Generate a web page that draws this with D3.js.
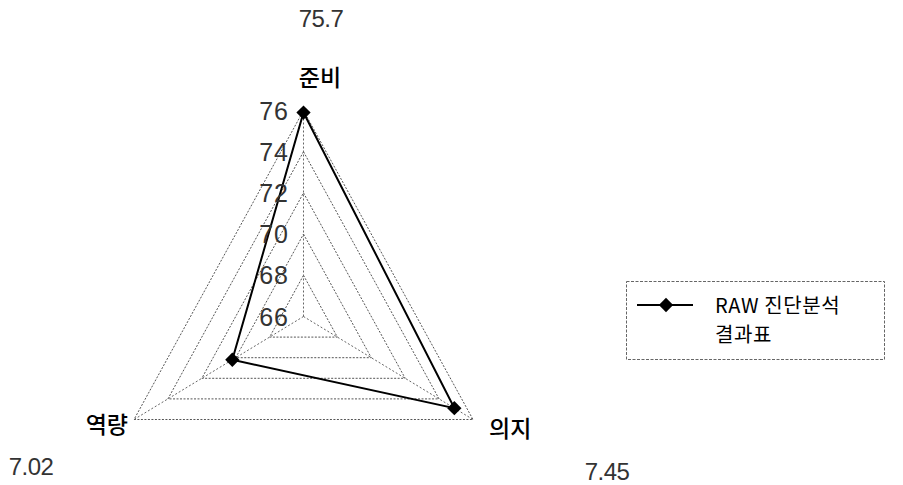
<!DOCTYPE html>
<html>
<head>
<meta charset="utf-8">
<script src="https://cdn.jsdelivr.net/npm/d3@7"></script>
<style>
  body { margin: 0; background: #fff; }
  svg { display: block; }
</style>
</head>
<body>
<div id="chart"></div>
<script>
const categories = ['준비', '의지', '역량'];
const values = [75.9, 74.9, 70.2];
const ringTicks = [66, 68, 70, 72, 74, 76];
const noteLabels = ['75.7', '7.45', '7.02'];
const seriesName = ['RAW 진단분석', '결과표'];

const width = 903;
const height = 485;
const cx = 303.5;
const cy = 316.5;
const radius = 206;
const sx = 0.95;

const svg = d3.select('#chart')
  .append('svg')
  .attr('width', width)
  .attr('height', height);

const rScale = d3.scaleLinear()
  .domain([66, 76])
  .range([0, radius]);

const angle = d3.scaleOrdinal()
  .domain(categories)
  .range(categories.map((d, i) => i * 2 * Math.PI / categories.length));

const pt = (cat, v) => {
  const a = angle(cat);
  return [cx + rScale(v) * Math.sin(a) * sx, cy - rScale(v) * Math.cos(a)];
};

const closed = d3.line().curve(d3.curveLinearClosed);

// grid rings
svg.append('g')
  .selectAll('path')
  .data(ringTicks.slice(1))
  .join('path')
  .attr('d', t => closed(categories.map(c => pt(c, t))))
  .style('fill', 'none')
  .style('stroke', '#555')
  .style('stroke-width', 1)
  .style('stroke-dasharray', '2,1.5');

// spokes
svg.append('g')
  .selectAll('line')
  .data(categories)
  .join('line')
  .attr('x1', cx)
  .attr('y1', cy)
  .attr('x2', c => pt(c, 76)[0])
  .attr('y2', c => pt(c, 76)[1])
  .style('stroke', '#666')
  .style('stroke-width', 1)
  .style('stroke-dasharray', '2,2');

// series line
svg.append('path')
  .attr('d', closed(categories.map((c, i) => pt(c, values[i]))))
  .style('fill', 'none')
  .style('stroke', '#000')
  .style('stroke-width', 2);

const diamond = d3.symbol().type(d3.symbolDiamond2).size(130);

svg.append('g')
  .selectAll('path')
  .data(categories)
  .join('path')
  .attr('transform', (c, i) => `translate(${pt(c, values[i])})`)
  .attr('d', diamond)
  .style('fill', '#000');

// ring tick labels
svg.append('g')
  .selectAll('text')
  .data(ringTicks)
  .join('text')
  .attr('x', 289)
  .attr('y', t => cy - rScale(t))
  .attr('dy', '0.36em')
  .attr('text-anchor', 'end')
  .style('font-family', 'Liberation Sans, Arial, sans-serif')
  .style('font-size', '25px')
  .style('letter-spacing', '1px')
  .style('fill', '#333')
  .text(t => t);

// category labels
const catPos = [
  { x: 320, y: 86, anchor: 'middle' },
  { x: 489, y: 437, anchor: 'start' },
  { x: 128, y: 433, anchor: 'end' }
];
svg.append('g')
  .selectAll('text')
  .data(categories)
  .join('text')
  .attr('x', (c, i) => catPos[i].x)
  .attr('y', (c, i) => catPos[i].y)
  .attr('text-anchor', (c, i) => catPos[i].anchor)
  .style('font-family', '"Noto Sans CJK KR", sans-serif')
  .style('font-size', '23px')
  .style('font-weight', 500)
  .style('fill', '#000')
  .text(c => c);

// stray value notes
const notePos = [
  { x: 321, y: 27 },
  { x: 607, y: 480 },
  { x: 31, y: 475 }
];
svg.append('g')
  .selectAll('text')
  .data(noteLabels)
  .join('text')
  .attr('x', (d, i) => notePos[i].x)
  .attr('y', (d, i) => notePos[i].y)
  .attr('text-anchor', 'middle')
  .style('font-family', 'Liberation Sans, Arial, sans-serif')
  .style('font-size', '24px')
  .style('letter-spacing', '-0.5px')
  .style('fill', '#333')
  .text(d => d);

// legend
const legend = svg.append('g');
legend.append('rect')
  .attr('x', 626.5)
  .attr('y', 281.5)
  .attr('width', 258)
  .attr('height', 78)
  .style('fill', 'none')
  .style('stroke', '#666')
  .style('stroke-dasharray', '3,1.5');
legend.append('line')
  .attr('x1', 637).attr('x2', 693)
  .attr('y1', 305).attr('y2', 305)
  .style('stroke', '#000')
  .style('stroke-width', 2);
legend.append('path')
  .attr('transform', 'translate(666,305)')
  .attr('d', diamond)
  .style('fill', '#000');
legend.selectAll('text')
  .data(seriesName)
  .join('text')
  .attr('x', 715)
  .attr('y', (d, i) => 313 + i * 29)
  .style('font-family', '"Noto Sans CJK KR", sans-serif')
  .style('font-size', '20px')
  .style('letter-spacing', '0.6px')
  .style('fill', '#000')
  .text(d => d);
</script>
</body>
</html>
